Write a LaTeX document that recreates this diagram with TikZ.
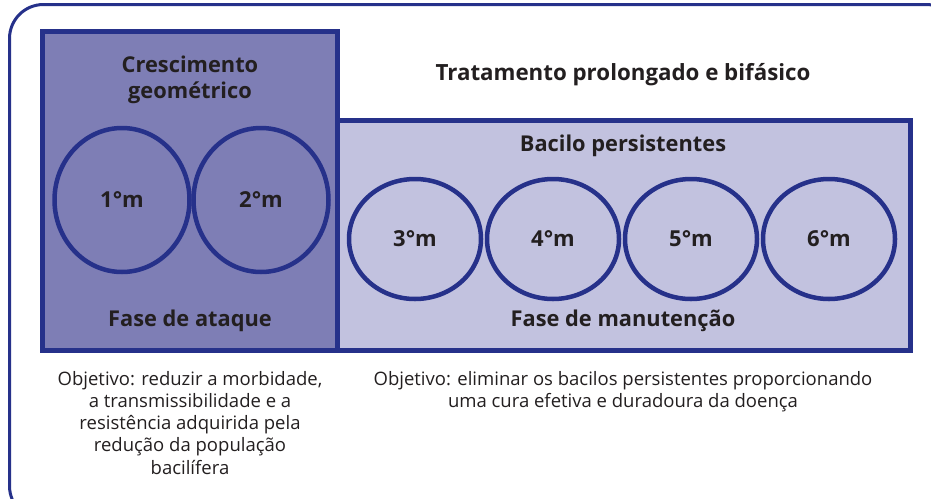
\documentclass[tikz,border=0pt]{standalone}
\usepackage{fontspec}
\setmainfont{Open Sans}
\usetikzlibrary{shapes.geometric}
\definecolor{navy}{HTML}{26318A}
\definecolor{darkfill}{HTML}{7E7EB5}
\definecolor{lightfill}{HTML}{C2C2DF}
\definecolor{ink}{HTML}{231F20}
\begin{document}
\begin{tikzpicture}[x=1pt,y=-1pt,
  frame/.style={draw=navy, line width=3pt, rounded corners=34pt},
  phasebox/.style={draw=navy, line width=5pt},
  month/.style={ellipse, draw=navy, line width=4.5pt, inner sep=0pt, text=ink,
    font=\bfseries\fontsize{22}{24}\selectfont},
  bigmonth/.style={month, minimum width=135pt, minimum height=144pt},
  smallmonth/.style={month, minimum width=132pt, minimum height=120pt},
  title/.style={text=ink, font=\bfseries\fontsize{21.8}{26}\selectfont, align=center},
  note/.style={text=ink, font=\fontsize{18.5}{22.3}\selectfont, align=center, anchor=north}
]
\useasboundingbox (0,0) rectangle (931,498);
\begin{scope}
  \clip (0,0) rectangle (931,498);
  \draw[frame] (9.5,4.5) rectangle (960,520);
\end{scope}
% phase boxes
\fill[darkfill] (42.5,31.5) rectangle (337.5,350.5);
\fill[lightfill] (337.5,120.5) rectangle (910.5,350.5);
\draw[phasebox] (42.5,31.5) rectangle (337.5,350.5);
\draw[phasebox] (337.5,120.5) rectangle (910.5,350.5);
% titles
\node[title] (cresc) at (190,80) {Crescimento\\geométrico};
\node[title, font=\bfseries\fontsize{22.3}{26}\selectfont] (trat) at (623,75) {Tratamento prolongado e bifásico};
\node[title] (bacilo) at (623,146) {Bacilo persistentes};
\node[title] (ataque) at (190,321) {Fase de ataque};
\node[title] (manut) at (623,321) {Fase de manutenção};
% months
\node[bigmonth] (m1) at (122,200) {1°m};
\node[bigmonth] (m2) at (261,200) {2°m};
\node[smallmonth] (m3) at (415,239) {3°m};
\node[smallmonth] (m4) at (553,239) {4°m};
\node[smallmonth] (m5) at (691,239) {5°m};
\node[smallmonth] (m6) at (829,239) {6°m};
% objectives
\node[note] (obj1) at (190,367.5) {Objetivo: reduzir a morbidade,\\a transmissibilidade e a\\resistência adquirida pela\\redução da população\\bacilífera};
\node[note] (obj2) at (623,367.5) {Objetivo: eliminar os bacilos persistentes proporcionando\\uma cura efetiva e duradoura da doença};
\end{tikzpicture}
\end{document}
